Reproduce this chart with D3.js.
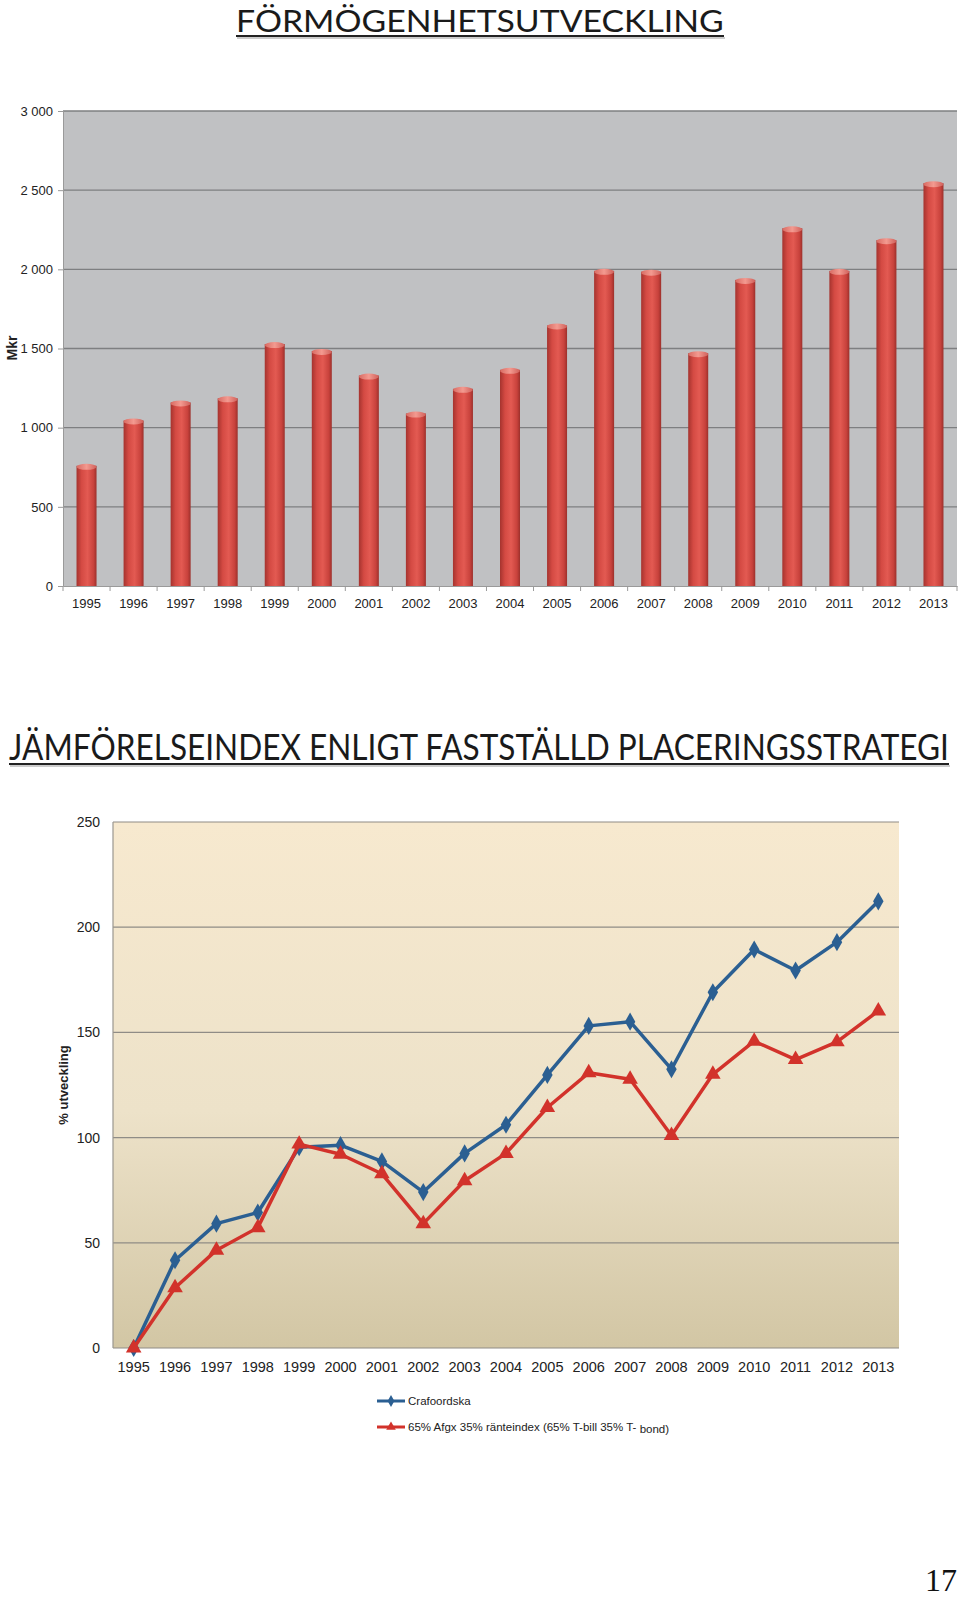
<!DOCTYPE html>
<html lang="sv">
<head>
<meta charset="UTF-8">
<script src="https://d3js.org/d3.v7.min.js"></script>
<title>Förmögenhetsutveckling</title>
<style>
body { margin: 0; background: #fff; }
text { font-family: "Liberation Sans", Arial, sans-serif; fill: #222; }
</style>
</head>
<body>
<svg id="vis" width="960" height="1599"></svg>
<script>
var years = ["1995","1996","1997","1998","1999","2000","2001","2002","2003","2004",
             "2005","2006","2007","2008","2009","2010","2011","2012","2013"];
// Mkr
var formogenhet = [772, 1058, 1172, 1198, 1541, 1497, 1342, 1102, 1258, 1378,
                   1658, 2003, 1998, 1483, 1946, 2272, 2003, 2197, 2557];
var barTicks = [0, 500, 1000, 1500, 2000, 2500, 3000];

// % utveckling
var crafoordska = [0, 41.7, 59.1, 64.4, 95.4, 96.4, 88.7, 74.1, 92.5, 106.1,
                   129.8, 153.1, 155.1, 132.5, 169.1, 189.4, 179.4, 192.9, 212.3];
var jmfIndex = [0, 28.6, 46.5, 57.2, 96.9, 92.1, 82.8, 59.1, 79.5, 92.5,
                114.3, 130.8, 127.7, 101.0, 130.1, 145.8, 137.1, 145.5, 160.2];
var lineTicks = [0, 50, 100, 150, 200, 250];
var legendLabels = ["Crafoordska", "65% Afgx 35% ränteindex (65% T-bill 35% T- bond)"];

var svg = d3.select("#vis");
var defs = svg.append("defs");

// ---------- rubriker ----------
function rubrik(txt, x, y, len, size) {
  var g = svg.append("g");
  var t = g.append("text").attr("x", 0).attr("y", 0)
    .style("font-family", "Lato, 'Open Sans', sans-serif")
    .style("font-size", size + "px").style("fill", "#1a1a1a")
    .text(txt);
  // skala texten i x-led så att bredden stämmer
  var w = t.node().getComputedTextLength();
  t.attr("transform", "translate(" + x + "," + y + ") scale(" + (len / w) + ",1)");
  g.append("line").attr("x1", x).attr("x2", x + len)
    .attr("y1", y + 4).attr("y2", y + 4)
    .attr("stroke", "#222").attr("stroke-width", 2);
  g.append("line").attr("x1", x + 1).attr("x2", x + len + 1)
    .attr("y1", y + 6).attr("y2", y + 6)
    .attr("stroke", "#999").attr("stroke-width", 1);
}
rubrik("FÖRMÖGENHETSUTVECKLING", 236, 32, 488, 31);
rubrik("JÄMFÖRELSEINDEX ENLIGT FASTSTÄLLD PLACERINGSSTRATEGI", 9, 760, 940, 36);

// ---------- stapeldiagram ----------
var yBar = d3.scaleLinear().domain([0, 3000]).range([586, 111]);
var xBar = d3.scaleBand().domain(years).range([63, 957]);
var barW = 20;

svg.append("rect").attr("x", 63).attr("y", 111)
  .attr("width", 957 - 63).attr("height", 586 - 111).attr("fill", "#c0c1c3");

var gGrid = svg.append("g");
gGrid.selectAll("line").data(barTicks.slice(1)).join("line")
  .attr("x1", 63).attr("x2", 957)
  .attr("y1", function(d) { return yBar(d); }).attr("y2", function(d) { return yBar(d); })
  .attr("stroke", "#7e7f81").attr("stroke-width", 1.3);

var gy = svg.append("g").attr("transform", "translate(63,0)")
  .call(d3.axisLeft(yBar).tickValues(barTicks).tickSize(5)
    .tickFormat(function(d) { return d3.format(",")(d).replace(/,/g, " "); }));
gy.select(".domain").attr("stroke", "#9a9a9a");
gy.selectAll(".tick line").attr("stroke", "#9a9a9a");
gy.selectAll(".tick text").style("font-size", "13px").attr("x", -10)
  .style("font-family", "'Liberation Sans', Arial, sans-serif").style("fill", "#222");

var gx = svg.append("g").attr("transform", "translate(0,586)")
  .call(d3.axisBottom(xBar).tickSize(0).tickPadding(13));
gx.select(".domain").attr("stroke", "#9a9a9a");
gx.selectAll(".tick text").style("font-size", "13px")
  .style("font-family", "'Liberation Sans', Arial, sans-serif").style("fill", "#222");
svg.append("g").selectAll("line").data(years).join("line")
  .attr("x1", function(d) { return xBar(d); }).attr("x2", function(d) { return xBar(d); })
  .attr("y1", 586).attr("y2", 591).attr("stroke", "#9a9a9a");
svg.append("line").attr("x1", 957).attr("x2", 957).attr("y1", 586).attr("y2", 591).attr("stroke", "#9a9a9a");

svg.append("text").attr("transform", "translate(17,348) rotate(-90)")
  .attr("text-anchor", "middle").style("font-size", "14px").style("font-weight", "bold")
  .text("Mkr");

var bg = defs.append("linearGradient").attr("id", "barGrad")
  .attr("x1", 0).attr("x2", 1).attr("y1", 0).attr("y2", 0);
bg.append("stop").attr("offset", "0%").attr("stop-color", "#a5332e");
bg.append("stop").attr("offset", "25%").attr("stop-color", "#d44a43");
bg.append("stop").attr("offset", "55%").attr("stop-color", "#e35a52");
bg.append("stop").attr("offset", "85%").attr("stop-color", "#c8423c");
bg.append("stop").attr("offset", "100%").attr("stop-color", "#9c302b");

var cg = defs.append("linearGradient").attr("id", "capGrad")
  .attr("x1", 0).attr("x2", 1).attr("y1", 0).attr("y2", 0);
cg.append("stop").attr("offset", "0%").attr("stop-color", "#d86a62");
cg.append("stop").attr("offset", "50%").attr("stop-color", "#f39a90");
cg.append("stop").attr("offset", "100%").attr("stop-color", "#d0605a");

var gBars = svg.append("g");
years.forEach(function(yr, i) {
  var x0 = xBar(yr) + (xBar.bandwidth() - barW) / 2;
  var top = yBar(formogenhet[i]);
  gBars.append("rect").attr("x", x0).attr("y", top + 2)
    .attr("width", barW).attr("height", yBar(0) - top - 2)
    .attr("fill", "url(#barGrad)");
  gBars.append("ellipse").attr("cx", x0 + barW / 2).attr("cy", top + 3)
    .attr("rx", barW / 2).attr("ry", 3).attr("fill", "url(#capGrad)");
});

// ---------- linjediagram ----------
var yLine = d3.scaleLinear().domain([0, 250]).range([1348, 822]);
var xLine = d3.scalePoint().domain(years).range([113, 899]).padding(0.5);

var pg = defs.append("linearGradient").attr("id", "plotGrad")
  .attr("x1", 0).attr("x2", 0).attr("y1", 0).attr("y2", 1);
pg.append("stop").attr("offset", "0%").attr("stop-color", "#f7e9cf");
pg.append("stop").attr("offset", "55%").attr("stop-color", "#ede2c9");
pg.append("stop").attr("offset", "100%").attr("stop-color", "#d2c6a4");

svg.append("rect").attr("x", 113).attr("y", 822)
  .attr("width", 899 - 113).attr("height", 1348 - 822).attr("fill", "url(#plotGrad)");

svg.append("g").selectAll("line").data(lineTicks).join("line")
  .attr("x1", 113).attr("x2", 899)
  .attr("y1", function(d) { return yLine(d); }).attr("y2", function(d) { return yLine(d); })
  .attr("stroke", "#8f8c86").attr("stroke-width", 1.2);
svg.append("line").attr("x1", 113).attr("x2", 113).attr("y1", 822).attr("y2", 1348)
  .attr("stroke", "#9a978f").attr("stroke-width", 1.2);

svg.append("g").selectAll("text").data(lineTicks).join("text")
  .attr("x", 100).attr("y", function(d) { return yLine(d) + 5; })
  .attr("text-anchor", "end").style("font-size", "14px")
  .text(function(d) { return d; });

svg.append("g").selectAll("text").data(years).join("text")
  .attr("x", function(d) { return xLine(d); }).attr("y", 1372)
  .attr("text-anchor", "middle").style("font-size", "14.5px")
  .text(function(d) { return d; });

svg.append("text").attr("transform", "translate(68,1085) rotate(-90)")
  .attr("text-anchor", "middle").style("font-size", "13px").style("font-weight", "bold")
  .text("% utveckling");

var linje = d3.line()
  .x(function(d, i) { return xLine(years[i]); })
  .y(function(d) { return yLine(d); });

var serier = [
  { data: crafoordska, color: "#2b5f92", sym: d3.symbolDiamond, size: 95 },
  { data: jmfIndex, color: "#d2322b", sym: d3.symbolTriangle, size: 105 }
];

serier.forEach(function(s) {
  var g = svg.append("g");
  g.append("path").datum(s.data).attr("d", linje)
    .attr("fill", "none").attr("stroke", s.color).attr("stroke-width", 3.5)
    .attr("stroke-linejoin", "round");
  g.selectAll("path.m").data(s.data).join("path").attr("class", "m")
    .attr("transform", function(d, i) { return "translate(" + xLine(years[i]) + "," + yLine(d) + ")"; })
    .attr("d", d3.symbol().type(s.sym).size(s.size))
    .attr("fill", s.color);
});

// legend
serier.forEach(function(s, i) {
  var ly = 1401 + i * 26;
  svg.append("line").attr("x1", 377).attr("x2", 405).attr("y1", ly).attr("y2", ly)
    .attr("stroke", s.color).attr("stroke-width", 3);
  svg.append("path").attr("transform", "translate(391," + ly + ")")
    .attr("d", d3.symbol().type(s.sym).size(40)).attr("fill", s.color);
  var parts = legendLabels[i].split("T- ");
  var t = svg.append("text").attr("x", 408).attr("y", ly + 4).style("font-size", "11.5px");
  t.append("tspan").text(parts[0] + (parts.length > 1 ? "T- " : ""));
  if (parts.length > 1) t.append("tspan").attr("dy", 2).text(parts[1]);
});

// sidnummer
svg.append("text").attr("x", 957).attr("y", 1591).attr("text-anchor", "end")
  .style("font-family", "'Liberation Serif', 'DejaVu Serif', serif")
  .style("font-size", "32px").style("fill", "#111").text("17");
</script>
</body>
</html>
